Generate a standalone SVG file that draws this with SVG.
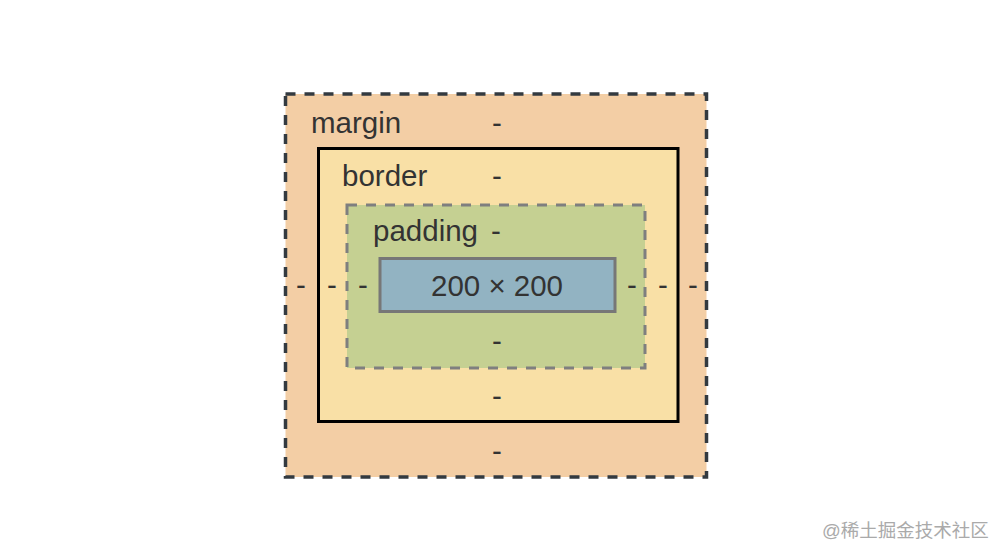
<svg xmlns="http://www.w3.org/2000/svg" width="1004" height="560" viewBox="0 0 1004 560">
<style>
text{font-family:"Liberation Sans",Arial,sans-serif;fill:#333333;}
.lbl{font-size:29.5px;}
.d{font-size:29.5px;text-anchor:middle;}
.wm{font-family:"Liberation Sans","Noto Sans CJK SC",sans-serif;font-size:18.5px;fill:#aaaaaa;}
</style>
<rect width="1004" height="560" fill="#ffffff"/>
<g id="margin">
<rect x="285.5" y="94" width="421" height="383" fill="#f3cea5" stroke="#333a40" stroke-width="3.5" stroke-dasharray="10 9"/>
<text class="lbl" x="311" y="133">margin</text>
<text class="d" x="497" y="133">-</text>
<text class="d" x="301" y="295">-</text>
<text class="d" x="693" y="295">-</text>
<text class="d" x="497" y="461">-</text>
</g>
<g id="border">
<rect x="318.5" y="148.5" width="359.5" height="273" fill="#f9e0a6" stroke="#000000" stroke-width="3"/>
<text class="lbl" x="342" y="186">border</text>
<text class="d" x="497" y="186">-</text>
<text class="d" x="332" y="295">-</text>
<text class="d" x="663" y="295">-</text>
<text class="d" x="497" y="406">-</text>
</g>
<g id="padding">
<rect x="347" y="205" width="298" height="163" fill="#c5d092" stroke="#7f7f7f" stroke-width="3" stroke-dasharray="10 9"/>
<text class="lbl" x="373" y="241">padding</text>
<text class="d" x="496" y="241">-</text>
<text class="d" x="363" y="295">-</text>
<text class="d" x="632" y="295">-</text>
<text class="d" x="497" y="351">-</text>
</g>
<g id="content">
<rect x="380" y="258.5" width="235" height="53" fill="#92b3c2" stroke="#777777" stroke-width="3"/>
<text class="d" x="497" y="296">200 × 200</text>
</g>
<g id="connectors"></g>
<text class="wm" x="822" y="537">@稀土掘金技术社区</text>
</svg>
